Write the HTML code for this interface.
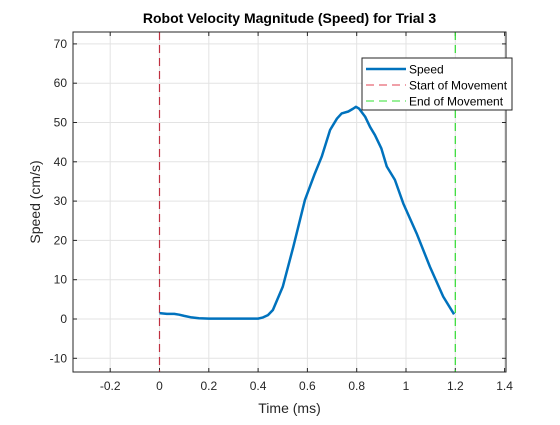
<!DOCTYPE html>
<html><head><meta charset="utf-8"><style>
body{margin:0;background:#fff;}
svg text{font-family:"Liberation Sans",Arial,sans-serif;}
</style></head><body>
<svg width="560" height="420" xmlns="http://www.w3.org/2000/svg">
<rect width="560" height="420" fill="#fff"/>
<g id="grid"></g>
<g id="ticks"></g>
<g id="marks"></g>
<rect x="73" y="32" width="433" height="340" fill="none" stroke="#262626" stroke-width="1"/>
<text x="289.5" y="23" text-anchor="middle" font-size="14" font-weight="bold" fill="#000">Robot Velocity Magnitude (Speed) for Trial 3</text>
<text x="289.5" y="413" text-anchor="middle" font-size="14" fill="#262626">Time (ms)</text>
<text transform="translate(40,202) rotate(-90)" text-anchor="middle" font-size="14" fill="#262626">Speed (cm/s)</text>
<g>
<rect x="362" y="58" width="150" height="52" fill="#fff" stroke="#262626" stroke-width="1"/>
<line x1="366" y1="69" x2="406" y2="69" stroke="#0072BD" stroke-width="2.5"/>
<text x="409" y="73.5" font-size="12" fill="#000">Speed</text>
<line x1="366" y1="85" x2="406" y2="85" stroke="#e04050" stroke-width="1" stroke-dasharray="8,5"/>
<text x="409" y="89.5" font-size="12" fill="#000">Start of Movement</text>
<line x1="366" y1="101" x2="406" y2="101" stroke="#30e030" stroke-width="1" stroke-dasharray="8,5"/>
<text x="409" y="105.5" font-size="12" fill="#000">End of Movement</text>
</g>
</svg>
<script>
const times=[0,0.03,0.06,0.08,0.1,0.13,0.16,0.2,0.3,0.4,0.42,0.44,0.46,0.5,0.543,0.59,0.63,0.658,0.692,0.72,0.739,0.766,0.785,0.797,0.81,0.834,0.854,0.874,0.9,0.922,0.955,0.989,1.043,1.097,1.151,1.195];
const speeds=[1.5,1.3,1.3,1.1,0.8,0.4,0.2,0.1,0.1,0.1,0.4,1.0,2.3,8.2,18.4,30.3,37,41.3,48.1,51,52.3,52.8,53.5,54,53.5,51.5,48.9,46.8,43.4,38.8,35.4,29.4,21.8,13.3,5.7,1.2];
const xTicks=[-0.2,0,0.2,0.4,0.6,0.8,1,1.2,1.4];
const yTicks=[-10,0,10,20,30,40,50,60,70];
const startT=0, endT=1.2;
const NS="http://www.w3.org/2000/svg";
const X=t=>159.5+t*246.5;
const Y=v=>319-v*3.93;
function mk(tag,attrs,parent){const e=document.createElementNS(NS,tag);for(const k in attrs)e.setAttribute(k,attrs[k]);parent.appendChild(e);return e;}
const grid=document.getElementById('grid'),ticks=document.getElementById('ticks'),marks=document.getElementById('marks');
xTicks.forEach(t=>{const x=X(t);
 const g=mk('line',{x1:x,y1:32,x2:x,y2:372,stroke:'#e3e3e3','stroke-width':1},grid);
 
 
 mk('line',{x1:x,y1:372,x2:x,y2:368,stroke:'#262626'},ticks);
 mk('line',{x1:x,y1:32,x2:x,y2:36,stroke:'#262626'},ticks);
 const tx=mk('text',{x:x,y:390,'text-anchor':'middle','font-size':12,fill:'#262626'},ticks);
 tx.textContent=String(t);
 
 
});
yTicks.forEach(v=>{const y=Y(v);
 const g=mk('line',{x1:73,y1:y,x2:506,y2:y,stroke:'#e3e3e3','stroke-width':1},grid);
 
 
 mk('line',{x1:73,y1:y,x2:77,y2:y,stroke:'#262626'},ticks);
 mk('line',{x1:506,y1:y,x2:502,y2:y,stroke:'#262626'},ticks);
 const tx=mk('text',{x:67,y:y+4,'text-anchor':'end','font-size':12,fill:'#262626'},ticks);
 tx.textContent=String(v);
 
 
});
const s=mk('line',{x1:X(startT),y1:32,x2:X(startT),y2:372,stroke:'#c03040','stroke-width':1.2,'stroke-dasharray':'8,5'},marks);


const e=mk('line',{x1:X(endT),y1:32,x2:X(endT),y2:372,stroke:'#30dd30','stroke-width':1.2,'stroke-dasharray':'8,5'},marks);


const p=mk('polyline',{points:times.map((t,i)=>X(t)+','+Y(speeds[i])).join(' '),fill:'none',stroke:'#0072BD','stroke-width':2.5,'stroke-linejoin':'round'},marks);


</script>
</body></html>
